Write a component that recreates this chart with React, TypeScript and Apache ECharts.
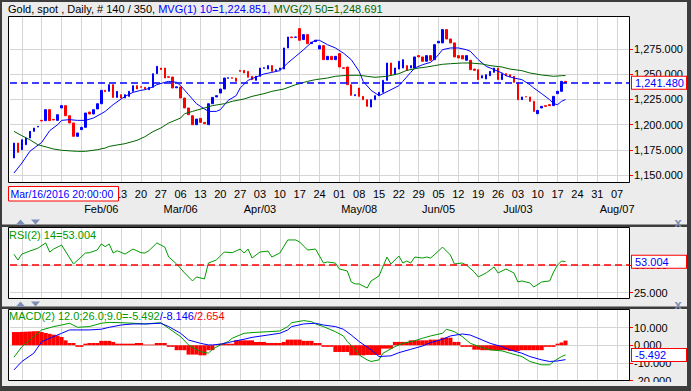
import React, { useEffect, useRef } from 'react';
import * as echarts from 'echarts';

const FONT = '"Liberation Sans", Arial, sans-serif';

// ---- calendar (x categories: every weekday of the visible range) ----
const FIRST_WEEKDAY = '2017-01-04';
const WEEKDAY_COUNT = 157;
const FIRST_CANDLE_INDEX = 1; // first candle: 2017-01-05
const FIRST_VISIBLE_DAY_LABEL = '2017-02-13'; // earlier week labels sit under the crosshair date box
const monthTickDates = ['2017-02-06', '2017-03-06', '2017-04-03', '2017-05-08', '2017-06-05', '2017-07-03', '2017-08-07'];
const monthTickLabels = ['Feb/06', 'Mar/06', 'Apr/03', 'May/08', 'Jun/05', 'Jul/03', 'Aug/07'];
const crosshairDateText = 'Mar/16/2016 20:00:00';

// ---- axis ticks ----
const priceTicks = [1150, 1175, 1200, 1225, 1250, 1275];
const rsiTicks = [25, 50];
const macdTicks = [-20, -10, 0, 10];
const TOTAL_BARS = 350;

// ---- daily candles [open, close, low, high] ----
const candles = [
  [1166.9, 1181.7, 1165.9, 1185.7], [1181.7, 1172.5, 1171.2, 1183.4], [1175.1, 1185.0, 1174.5, 1187.7],
  [1180.1, 1186.7, 1178.4, 1190.0], [1186.7, 1193.3, 1181.7, 1198.3], [1193.3, 1196.6, 1192.3, 1208.2],
  [1197.6, 1198.3, 1187.7, 1201.6], [1204.2, 1203.6, 1198.3, 1209.8], [1203.9, 1214.8, 1202.2, 1218.8],
  [1214.8, 1203.9, 1201.6, 1215.5], [1205.2, 1204.6, 1196.6, 1208.2], [1204.2, 1209.8, 1201.6, 1213.1],
  [1216.5, 1218.8, 1208.2, 1219.8], [1218.8, 1208.8, 1208.2, 1219.4], [1208.8, 1201.6, 1193.3, 1211.5],
  [1201.6, 1188.4, 1186.7, 1204.9], [1188.4, 1191.7, 1180.1, 1195.0], [1195.0, 1197.3, 1185.0, 1201.6],
  [1197.3, 1211.5, 1196.6, 1213.1], [1212.5, 1210.5, 1204.9, 1216.5], [1210.5, 1214.8, 1206.5, 1221.4],
  [1215.5, 1220.7, 1213.1, 1226.4], [1220.7, 1234.0, 1219.8, 1236.3], [1234.0, 1232.7, 1228.0, 1238.0],
  [1233.0, 1239.6, 1231.3, 1245.2], [1239.6, 1227.0, 1225.4, 1245.2], [1227.0, 1233.0, 1221.4, 1234.6],
  [1229.7, 1226.4, 1218.1, 1233.0], [1226.4, 1229.7, 1219.8, 1231.3], [1228.0, 1233.0, 1216.5, 1236.3],
  [1233.0, 1238.6, 1229.7, 1241.3], [1238.6, 1235.3, 1234.6, 1243.9], [1237.6, 1237.0, 1233.0, 1239.6],
  [1237.0, 1235.3, 1233.0, 1241.3], [1234.6, 1237.0, 1229.7, 1241.3], [1237.0, 1250.5, 1233.0, 1252.8],
  [1250.5, 1257.8, 1248.5, 1261.1], [1256.1, 1254.5, 1252.8, 1264.4], [1256.1, 1246.2, 1245.2, 1259.4],
  [1247.5, 1246.9, 1241.3, 1251.2], [1247.2, 1236.3, 1231.3, 1248.5], [1236.5, 1237.5, 1223.1, 1242.9],
  [1237.3, 1226.4, 1224.7, 1238.0], [1226.4, 1216.5, 1213.1, 1228.0], [1216.5, 1209.8, 1206.5, 1219.8],
  [1208.8, 1199.9, 1198.3, 1211.5], [1199.9, 1205.5, 1195.0, 1206.5], [1206.2, 1202.2, 1198.3, 1210.8],
  [1202.2, 1200.9, 1198.3, 1208.2], [1199.9, 1220.7, 1197.6, 1222.1], [1220.7, 1227.0, 1219.8, 1233.0],
  [1227.4, 1228.7, 1224.7, 1231.3], [1231.3, 1235.3, 1228.0, 1237.3], [1235.3, 1246.2, 1234.0, 1247.9],
  [1245.9, 1246.5, 1242.9, 1252.8], [1246.5, 1245.9, 1243.9, 1254.5], [1246.2, 1242.9, 1241.3, 1251.2],
  [1253.8, 1252.8, 1243.9, 1261.8], [1253.8, 1251.2, 1248.5, 1258.5], [1252.8, 1246.9, 1244.6, 1256.1],
  [1247.9, 1244.6, 1242.9, 1251.2], [1243.9, 1247.9, 1239.6, 1251.2], [1247.9, 1256.1, 1246.2, 1257.8],
  [1255.8, 1256.4, 1253.8, 1261.1], [1255.1, 1258.5, 1244.6, 1260.4], [1258.5, 1252.8, 1251.2, 1261.1],
  [1253.5, 1254.5, 1251.2, 1271.0], [1254.5, 1256.1, 1244.6, 1261.1], [1255.1, 1276.0, 1253.8, 1277.6],
  [1276.0, 1286.9, 1272.7, 1288.2], [1286.9, 1286.2, 1282.6, 1289.2], [1286.6, 1286.9, 1283.6, 1289.2],
  [1295.2, 1283.6, 1281.6, 1296.5], [1284.3, 1289.2, 1279.3, 1290.9], [1289.2, 1280.3, 1277.6, 1290.9],
  [1280.3, 1281.6, 1276.0, 1283.6], [1282.3, 1283.6, 1277.0, 1289.2], [1275.0, 1278.3, 1266.1, 1279.3],
  [1278.3, 1264.4, 1262.8, 1279.3], [1264.4, 1267.7, 1262.8, 1269.4], [1267.7, 1264.4, 1261.1, 1269.4],
  [1264.4, 1267.7, 1262.8, 1269.4], [1270.4, 1257.1, 1252.8, 1271.0], [1256.4, 1255.8, 1252.8, 1258.5],
  [1257.1, 1239.6, 1235.3, 1258.5], [1239.6, 1229.0, 1225.4, 1241.3], [1228.7, 1229.7, 1226.4, 1236.3],
  [1236.3, 1228.0, 1224.7, 1237.3], [1228.0, 1224.7, 1213.1, 1228.7], [1224.7, 1218.1, 1217.4, 1226.4],
  [1217.4, 1224.7, 1216.5, 1226.4], [1224.7, 1228.7, 1224.1, 1230.7], [1228.7, 1232.0, 1227.4, 1233.0],
  [1232.0, 1243.9, 1230.7, 1244.6], [1243.9, 1261.1, 1242.9, 1265.1], [1261.1, 1249.5, 1248.5, 1265.1],
  [1249.5, 1256.1, 1248.5, 1257.8], [1255.1, 1262.8, 1252.8, 1266.1], [1256.1, 1264.4, 1251.8, 1266.1],
  [1258.5, 1253.8, 1251.2, 1259.4], [1256.1, 1258.5, 1251.8, 1261.1], [1256.1, 1267.1, 1254.5, 1269.4],
  [1268.4, 1267.1, 1266.1, 1270.4], [1267.1, 1262.8, 1261.1, 1270.4], [1262.8, 1268.4, 1261.8, 1274.3],
  [1268.4, 1263.8, 1262.8, 1269.4], [1264.4, 1279.3, 1262.8, 1281.0], [1281.0, 1282.6, 1279.3, 1284.3],
  [1281.0, 1294.2, 1279.3, 1296.8], [1294.2, 1284.9, 1282.6, 1295.8], [1284.9, 1281.0, 1271.0, 1285.9],
  [1281.0, 1267.1, 1265.1, 1282.6], [1268.4, 1266.1, 1262.8, 1270.4], [1268.4, 1265.1, 1263.8, 1270.4],
  [1263.8, 1268.4, 1261.8, 1276.0], [1263.8, 1254.5, 1252.8, 1265.1], [1255.1, 1253.8, 1251.2, 1258.5],
  [1254.5, 1244.6, 1242.9, 1257.8], [1246.2, 1248.5, 1241.3, 1252.8], [1245.2, 1249.5, 1241.9, 1252.8],
  [1248.5, 1252.8, 1247.2, 1254.5], [1251.8, 1256.1, 1251.2, 1257.8], [1256.1, 1244.6, 1235.3, 1257.8],
  [1244.6, 1250.5, 1242.9, 1251.8], [1250.5, 1248.5, 1247.2, 1251.8], [1249.5, 1247.2, 1245.2, 1251.2],
  [1247.9, 1241.9, 1239.6, 1249.5], [1241.3, 1224.7, 1218.8, 1242.9], [1224.7, 1227.4, 1223.1, 1228.7],
  [1227.7, 1227.4, 1218.1, 1229.7], [1227.4, 1223.1, 1218.1, 1228.7], [1223.1, 1213.1, 1208.2, 1224.7],
  [1210.8, 1214.1, 1205.5, 1216.5], [1216.5, 1218.1, 1208.2, 1223.1], [1218.8, 1218.1, 1212.2, 1225.4],
  [1219.8, 1218.8, 1216.5, 1224.7], [1218.8, 1228.0, 1214.1, 1232.0], [1230.7, 1233.0, 1228.0, 1234.6],
  [1233.0, 1242.9, 1232.0, 1245.2], [1242.9, 1241.48, 1236.3, 1245.2],
];

// ---- moving averages: [candle index, value] ----
const ma10Points = [
  [0, 1152.0], [2, 1161.9], [4, 1173.5], [7, 1182.4], [9, 1194.0], [11, 1199.9], [12, 1204.2], [14, 1204.9],
  [16, 1204.2], [18, 1204.2], [20, 1206.5], [22, 1210.8], [23, 1213.1], [25, 1219.8], [27, 1225.4], [28, 1228.0],
  [30, 1232.0], [32, 1234.0], [33, 1234.6], [35, 1237.3], [36, 1239.6], [38, 1241.9], [39, 1242.9], [41, 1241.9],
  [42, 1238.6], [44, 1229.7], [46, 1220.7], [47, 1218.1], [49, 1213.1], [51, 1213.1], [52, 1214.8], [54, 1224.1],
  [56, 1228.7], [57, 1236.3], [59, 1243.9], [61, 1247.2], [63, 1250.2], [65, 1251.8], [67, 1253.5], [69, 1261.1],
  [71, 1267.7], [73, 1274.3], [75, 1281.6], [76, 1283.6], [77, 1283.6], [79, 1279.3], [81, 1276.0], [83, 1271.0],
  [85, 1264.4], [87, 1252.8], [88, 1242.9], [90, 1234.0], [92, 1228.7], [93, 1230.7], [95, 1234.6], [97, 1238.6],
  [98, 1242.9], [100, 1251.8], [101, 1256.1], [103, 1259.4], [105, 1261.8], [106, 1265.1], [107, 1269.4],
  [108, 1274.3], [110, 1276.0], [112, 1276.0], [114, 1274.3], [115, 1272.7], [117, 1264.4], [119, 1257.8],
  [121, 1254.5], [123, 1251.2], [124, 1248.5], [126, 1246.2], [128, 1244.6], [130, 1239.6], [131, 1236.3],
  [133, 1230.7], [135, 1224.7], [136, 1220.7], [137, 1219.8], [138, 1223.1], [139, 1224.851],
];
const ma50Points = [
  [0, 1193.3], [2, 1189.0], [4, 1185.0], [6, 1180.1], [10, 1175.8], [12, 1174.5], [16, 1173.5], [18, 1173.5],
  [21, 1175.1], [23, 1176.8], [24, 1178.4], [26, 1179.8], [28, 1181.1], [31, 1184.4], [33, 1188.0], [35, 1193.0],
  [37, 1196.6], [39, 1201.6], [42, 1206.5], [43, 1210.8], [45, 1213.1], [48, 1216.5], [50, 1218.8], [53, 1220.7],
  [55, 1223.1], [58, 1225.4], [60, 1228.0], [63, 1230.7], [65, 1233.0], [68, 1235.3], [71, 1239.6], [74, 1242.9],
  [76, 1244.6], [79, 1246.2], [81, 1247.9], [84, 1248.9], [87, 1248.9], [89, 1247.9], [91, 1246.9], [94, 1247.9],
  [97, 1250.5], [99, 1253.8], [102, 1256.1], [104, 1257.1], [106, 1258.5], [108, 1259.8], [110, 1260.4],
  [113, 1261.1], [115, 1261.1], [118, 1260.1], [120, 1258.5], [123, 1257.1], [125, 1255.1], [128, 1253.5],
  [130, 1251.2], [133, 1249.2], [136, 1247.9], [138, 1248.5], [139, 1248.691],
];

// ---- RSI(14) ----
const rsiPoints = [
  [0, 59.7], [1, 54.5], [2, 59.9], [4, 62.6], [6, 65.1], [8, 69.9], [9, 61.7], [10, 64.4], [12, 68.0], [15, 50.9],
  [18, 60.8], [19, 61.1], [21, 63.5], [22, 69.0], [23, 66.5], [24, 69.0], [25, 60.8], [26, 62.9], [28, 59.9],
  [30, 64.4], [32, 61.1], [33, 60.8], [34, 62.9], [36, 69.9], [38, 66.2], [39, 57.2], [41, 50.9], [43, 42.8],
  [45, 35.6], [46, 39.2], [48, 37.4], [49, 51.8], [51, 54.5], [53, 61.7], [55, 61.1], [57, 64.4], [58, 60.8],
  [59, 64.4], [60, 56.3], [62, 61.7], [64, 62.6], [65, 57.2], [67, 60.8], [69, 72.6], [71, 72.6], [72, 70.8],
  [74, 63.5], [76, 64.4], [78, 51.8], [79, 52.7], [81, 51.8], [82, 46.4], [84, 44.6], [85, 34.7], [86, 32.9],
  [87, 32.9], [89, 29.2], [90, 35.6], [92, 40.1], [94, 57.2], [95, 50.9], [97, 58.1], [98, 51.8], [99, 53.6],
  [100, 51.8], [101, 57.2], [103, 56.3], [104, 57.2], [105, 56.3], [107, 62.6], [108, 66.2], [110, 59.0],
  [111, 50.9], [113, 51.8], [114, 50.0], [116, 43.7], [117, 39.2], [119, 42.8], [121, 48.2], [122, 42.8],
  [124, 46.4], [126, 42.8], [127, 34.7], [128, 35.6], [130, 33.8], [131, 30.1], [133, 34.7], [135, 35.6],
  [136, 43.7], [137, 50.0], [138, 53.6], [139, 53.004],
];
const RSI_MID = 50;

// ---- MACD(12,26,9) ----
const macdPoints = [
  [0, -6.8], [2, -0.8], [5, 4.9], [7, 8.7], [10, 10.6], [12, 11.5], [14, 12.5], [16, 10.2], [19, 10.6], [22, 12.5],
  [24, 13.0], [27, 12.8], [30, 12.5], [33, 12.1], [37, 12.8], [39, 9.6], [42, 4.9], [44, 0.2], [47, -3.6],
  [49, -4.5], [50, -2.3], [52, 0.2], [54, 2.1], [55, 4.0], [58, 6.8], [60, 7.2], [64, 7.7], [67, 8.1], [69, 10.6],
  [70, 12.8], [73, 14.0], [75, 13.4], [76, 12.1], [78, 10.6], [81, 7.7], [83, 5.3], [84, 2.1], [86, -2.3],
  [87, -5.5], [89, -8.3], [90, -9.2], [92, -8.3], [93, -4.5], [96, -0.8], [98, 1.1], [101, 2.6], [103, 4.0],
  [105, 5.3], [108, 6.8], [109, 9.1], [111, 7.7], [113, 4.9], [115, 1.1], [118, -1.3], [120, -2.6], [123, -3.2],
  [125, -4.5], [128, -6.4], [130, -9.2], [133, -11.1], [135, -11.1], [136, -9.2], [138, -6.4], [139, -5.492],
];
const signalPoints = [
  [0, -14.0], [2, -9.2], [5, -4.5], [7, 2.1], [10, 4.9], [12, 6.8], [14, 8.7], [16, 8.7], [19, 8.7], [22, 9.1],
  [24, 10.2], [27, 11.5], [30, 12.1], [33, 12.1], [37, 12.5], [39, 10.6], [42, 6.8], [44, 3.0], [47, 1.1],
  [49, 0.2], [50, 0.2], [52, 0.6], [54, 1.5], [55, 2.1], [58, 3.4], [60, 4.5], [64, 5.8], [67, 6.8], [69, 8.7],
  [70, 10.6], [73, 12.1], [76, 12.5], [78, 11.5], [81, 10.6], [83, 9.1], [85, 5.8], [87, 2.1], [90, -2.6],
  [92, -6.4], [95, -6.0], [97, -4.2], [100, -2.3], [103, -0.4], [105, 1.5], [108, 3.4], [110, 5.3], [113, 6.4],
  [115, 5.8], [118, 3.0], [120, 1.1], [123, -0.8], [125, -2.6], [128, -4.5], [130, -6.4], [133, -8.3],
  [135, -9.2], [137, -8.9], [139, -8.146],
];
const macdHist = [
  7.5, 7.5, 7.6, 7.7, 7.8, 8.0, 8.0, 7.5, 7.0, 6.5, 6.0, 5.5, 4.7, 2.8, 1.3, 1.3, -0.9, -0.9, 0.9, 1.3,
  1.3, 1.3, 2.5, 2.5, 2.5, 1.9, 0.9, 0.9, 0.9, 0.9, 0.9, 1.3, 1.3, 0.4, 0.4, 0.4, 1.3, 1.3, 1.3, -0.9,
  -0.9, -2.8, -2.8, -2.8, -5.3, -5.3, -5.3, -5.7, -5.7, -2.8, -2.8, 0.2, 0.9, 0.9, 0.9, 0.9, 2.8, 2.8, 2.8, 2.8,
  2.8, 1.9, 1.9, 1.9, 1.3, 1.3, 1.3, 1.3, 1.9, 3.2, 3.2, 3.2, 3.2, 2.5, 2.5, 2.5, 1.3, 1.3, -0.9, -0.9,
  -0.9, -3.8, -3.8, -3.8, -3.8, -5.7, -5.7, -5.7, -5.7, -5.5, -5.5, -5.5, -5.5, -1.9, -1.9, -1.9, 1.9, 1.9, 1.9, 1.9,
  2.8, 2.8, 2.8, 2.8, 2.8, 3.2, 3.2, 3.2, 4.3, 4.3, 4.3, 1.9, 1.9, -0.9, -0.9, -0.9, -2.5, -2.5, -2.8, -2.8,
  -2.8, -2.8, -2.8, -2.8, -2.8, -3.2, -3.2, -3.2, -2.8, -2.8, -2.8, -2.8, -2.8, -2.8, -0.9, -0.9, -0.9, 0.9, 1.6, 2.654,
];

// ---------------------------------------------------------------
function buildWeekdays(first: string, count: number): string[] {
  const out: string[] = [];
  let t = Date.parse(first + 'T00:00:00Z');
  while (out.length < count) {
    const d = new Date(t);
    const wd = d.getUTCDay();
    if (wd !== 0 && wd !== 6) out.push(d.toISOString().slice(0, 10));
    t += 86400000;
  }
  return out;
}
const isMonday = (s: string) => new Date(s + 'T00:00:00Z').getUTCDay() === 1;
const showDayLabel = (s: string) => isMonday(s) && s >= FIRST_VISIBLE_DAY_LABEL;
const fmt3 = (v: number) => {
  const [i, d] = Math.abs(v).toFixed(3).split('.');
  return (v < 0 ? '-' : '') + i.replace(/\B(?=(\d{3})+(?!\d))/g, ',') + '.' + d;
};
const toXY = (pts: number[][]) => pts.map(([i, v]) => [i + FIRST_CANDLE_INDEX, v]);

const GRID_LEFT = 10;
const GRID_W = 619;
const FRAME_X = 8.5;
const FRAME_W = 621;
const GRID_LINE = '#d5d5d5';
const BG = '#ececec';
const DARK = '#3d3d3d';
const ICON = '#7d8db5';

const boxLabel = (text: string) => ({
  show: true,
  position: 'end',
  distance: 3,
  formatter: text,
  color: '#0000ff',
  backgroundColor: '#ffffff',
  borderColor: '#ff0000',
  borderWidth: 1,
  padding: [1, 3, 0, 3],
  width: 48,
  fontSize: 11,
  fontFamily: FONT,
});

export default function App() {
  const ref = useRef<HTMLDivElement>(null);
  useEffect(() => {
    if (!ref.current) return;
    const chart = echarts.init(ref.current, null, { renderer: 'svg' });
    const categories = buildWeekdays(FIRST_WEEKDAY, WEEKDAY_COUNT);
    const lastClose = candles[candles.length - 1][1];
    const lastMa10 = ma10Points[ma10Points.length - 1][1];
    const lastMa50 = ma50Points[ma50Points.length - 1][1];
    const lastRsi = rsiPoints[rsiPoints.length - 1][1];
    const lastMacd = macdPoints[macdPoints.length - 1][1];
    const lastSignal = signalPoints[signalPoints.length - 1][1];
    const lastHist = macdHist[macdHist.length - 1];

    const xBase = (gridIndex: number) => ({
      type: 'category',
      gridIndex,
      data: categories,
      boundaryGap: false,
      axisLine: { show: false },
      axisTick: { show: false },
      axisLabel: { show: false },
      splitLine: { show: true, interval: (_i: number, v: string) => isMonday(v), lineStyle: { color: GRID_LINE, width: 1 } },
    });
    const yBase = (gridIndex: number, min: number, max: number, ticks: number[]) => ({
      type: 'value',
      gridIndex,
      position: 'right',
      min,
      max,
      axisLine: { show: false },
      axisTick: { show: true, customValues: ticks, length: 4, lineStyle: { color: '#ff0000', width: 1 } },
      axisLabel: { show: true, customValues: ticks, formatter: (v: number) => fmt3(v), margin: 5, color: '#000', fontSize: 11, fontFamily: FONT },
      splitLine: { show: true, lineStyle: { color: GRID_LINE, width: 1 } },
    });

    const frames = [
      [16.5, 166],
      [227.5, 71],
      [309.5, 71],
    ];

    const graphic: any[] = [];
    frames.forEach(([y, h]) => {
      graphic.push({ type: 'rect', z: -10, silent: true, shape: { x: FRAME_X, y, width: FRAME_W, height: h }, style: { fill: '#ffffff' } });
    });
    frames.forEach(([y, h]) => {
      graphic.push({ type: 'rect', z: 100, silent: true, shape: { x: FRAME_X, y, width: FRAME_W, height: h }, style: { fill: 'transparent', stroke: '#000', lineWidth: 1 } });
    });
    // outer dark edges and panel splitters
    [
      [0, 0, 691, 2],
      [0, 0, 2, 391],
      [687, 0, 4, 391],
      [0, 386, 691, 5],
      [0, 224.5, 691, 2.5],
      [0, 306.5, 691, 2.5],
    ].forEach(([x, y, w, h]) => graphic.push({ type: 'rect', z: 110, silent: true, shape: { x, y, width: w, height: h }, style: { fill: DARK } }));
    // cover below MACD frame (clipped -20 label)
    graphic.push({ type: 'rect', z: 105, silent: true, shape: { x: 630, y: 382, width: 57, height: 4 }, style: { fill: BG } });
    // panel arrows and close marks
    [219.5, 301.5].forEach((y) => {
      graphic.push({ type: 'polygon', z: 110, silent: true, shape: { points: [[16, y + 5], [20.5, y], [25, y + 5]] }, style: { fill: ICON } });
      graphic.push({ type: 'polygon', z: 110, silent: true, shape: { points: [[31, y], [40, y], [35.5, y + 5]] }, style: { fill: ICON } });
      graphic.push({ type: 'text', z: 110, silent: true, x: 678, y: y + 2.5, style: { text: 'x', fill: ICON, font: 'bold 13px ' + FONT, align: 'center', verticalAlign: 'middle' } });
    });
    // titles
    graphic.push({
      type: 'text', z: 110, silent: true, x: 8, y: 8.5,
      style: {
        text: `{a|Gold, spot , Daily, # ${candles.length} / ${TOTAL_BARS}, }{b|MVG(1) 10=${fmt3(lastMa10)}, }{c|MVG(2) 50=${fmt3(lastMa50)}}`,
        verticalAlign: 'middle',
        font: '11px ' + FONT,
        rich: {
          a: { fill: '#000000', fontSize: 11, fontFamily: FONT },
          b: { fill: '#0000ff', fontSize: 11, fontFamily: FONT },
          c: { fill: '#006400', fontSize: 11, fontFamily: FONT },
        },
      },
    });
    graphic.push({
      type: 'text', z: 110, silent: true, x: 9, y: 235,
      style: { text: `RSI(2) 14=${fmt3(lastRsi)}`, fill: '#009900', font: '11px ' + FONT, verticalAlign: 'middle' },
    });
    graphic.push({
      type: 'text', z: 110, silent: true, x: 9, y: 315.5,
      style: {
        text: `{a|MACD(2) 12.0;26.0;9.0=${fmt3(lastMacd)}}{b|/${fmt3(lastSignal)}}{c|/${fmt3(lastHist)}}`,
        verticalAlign: 'middle',
        font: '11px ' + FONT,
        rich: {
          a: { fill: '#009900', fontSize: 11, fontFamily: FONT },
          b: { fill: '#0000ff', fontSize: 11, fontFamily: FONT },
          c: { fill: '#ff0000', fontSize: 11, fontFamily: FONT },
        },
      },
    });
    // crosshair date box
    graphic.push({ type: 'rect', z: 110, silent: true, shape: { x: 8.5, y: 186.5, width: 110, height: 14.5 }, style: { fill: '#ffffff', stroke: '#ff0000', lineWidth: 1 } });
    graphic.push({ type: 'text', z: 111, silent: true, x: 10.5, y: 194, style: { text: crosshairDateText, fill: '#0000ff', font: '10.5px ' + FONT, verticalAlign: 'middle' } });

    const option: any = {
      animation: false,
      backgroundColor: BG,
      grid: [
        { left: GRID_LEFT, width: GRID_W, top: 17, height: 165.5, show: false },
        { left: GRID_LEFT, width: GRID_W, top: 228, height: 70, show: false },
        { left: GRID_LEFT, width: GRID_W, top: 309.5, height: 71, show: false },
      ],
      xAxis: [
        {
          ...xBase(0),
          axisLabel: {
            show: true,
            interval: (_i: number, v: string) => showDayLabel(v),
            formatter: (v: string) => (showDayLabel(v) ? v.slice(8) : ''),
            margin: 6,
            color: '#000',
            fontSize: 11,
            fontFamily: FONT,
          },
        },
        {
          type: 'category',
          gridIndex: 0,
          data: categories,
          boundaryGap: false,
          position: 'bottom',
          offset: 15,
          axisLine: { show: false },
          axisTick: { show: false },
          splitLine: { show: false },
          axisLabel: {
            show: true,
            interval: (_i: number, v: string) => monthTickDates.includes(v),
            formatter: (v: string) => {
              const k = monthTickDates.indexOf(v);
              return k >= 0 ? monthTickLabels[k] : '';
            },
            margin: 6,
            color: '#000',
            fontSize: 11,
            fontFamily: FONT,
          },
        },
        xBase(1),
        xBase(2),
      ],
      yAxis: [
        yBase(0, 1142.6, 1306.7, priceTicks),
        yBase(1, 20.2, 83.4, rsiTicks),
        yBase(2, -20, 20.3, macdTicks),
      ],
      series: [
        {
          name: 'wicks',
          type: 'candlestick',
          xAxisIndex: 0,
          yAxisIndex: 0,
          barWidth: 1,
          encode: { x: 0, y: [1, 2, 3, 4] },
          data: candles.map((c, i) => [i + FIRST_CANDLE_INDEX, c[2], c[3], c[2], c[3]]),
          itemStyle: { color: '#000', color0: '#000', borderColor: '#000', borderColor0: '#000', borderWidth: 0 },
          silent: true,
        },
        {
          name: 'bodies',
          type: 'candlestick',
          xAxisIndex: 0,
          yAxisIndex: 0,
          barWidth: 2,
          encode: { x: 0, y: [1, 2, 3, 4] },
          data: candles.map((c, i) => [i + FIRST_CANDLE_INDEX, c[0], c[1], Math.min(c[0], c[1]), Math.max(c[0], c[1])]),
          itemStyle: { color: '#0000ff', color0: '#ff0000', borderColor: '#0000ff', borderColor0: '#ff0000', borderWidth: 1 },
          silent: true,
          markLine: {
            silent: true,
            symbol: ['none', 'none'],
            animation: false,
            lineStyle: { color: '#0000ff', type: [7, 4], width: 1.5 },
            label: boxLabel(fmt3(lastClose)),
            data: [{ yAxis: lastClose }],
          },
        },
        {
          name: 'MVG(1)',
          type: 'line',
          xAxisIndex: 0,
          yAxisIndex: 0,
          data: toXY(ma10Points),
          showSymbol: false,
          symbol: 'none',
          lineStyle: { color: '#0000ff', width: 1 },
          silent: true,
        },
        {
          name: 'MVG(2)',
          type: 'line',
          xAxisIndex: 0,
          yAxisIndex: 0,
          data: toXY(ma50Points),
          showSymbol: false,
          symbol: 'none',
          lineStyle: { color: '#006400', width: 1 },
          silent: true,
        },
        {
          name: 'RSI',
          type: 'line',
          xAxisIndex: 2,
          yAxisIndex: 1,
          data: toXY(rsiPoints),
          showSymbol: false,
          symbol: 'none',
          lineStyle: { color: '#009900', width: 1 },
          silent: true,
          markLine: {
            silent: true,
            symbol: ['none', 'none'],
            animation: false,
            data: [
              { yAxis: RSI_MID, lineStyle: { color: '#ff0000', type: [7, 4], width: 1.5 }, label: { show: false } },
              { yAxis: lastRsi, lineStyle: { color: 'rgba(0,0,0,0)', width: 0 }, label: boxLabel(fmt3(lastRsi)) },
            ],
          },
        },
        {
          name: 'Hist',
          type: 'bar',
          xAxisIndex: 3,
          yAxisIndex: 2,
          data: macdHist.map((v, i) => [i + FIRST_CANDLE_INDEX, v]),
          barWidth: 4,
          itemStyle: { color: '#ff0000' },
          silent: true,
        },
        {
          name: 'MACD',
          type: 'line',
          xAxisIndex: 3,
          yAxisIndex: 2,
          data: toXY(macdPoints),
          showSymbol: false,
          symbol: 'none',
          lineStyle: { color: '#009900', width: 1 },
          silent: true,
          markLine: {
            silent: true,
            symbol: ['none', 'none'],
            animation: false,
            data: [{ yAxis: lastMacd, lineStyle: { color: 'rgba(0,0,0,0)', width: 0 }, label: boxLabel(fmt3(lastMacd)) }],
          },
        },
        {
          name: 'Signal',
          type: 'line',
          xAxisIndex: 3,
          yAxisIndex: 2,
          data: toXY(signalPoints),
          showSymbol: false,
          symbol: 'none',
          lineStyle: { color: '#0000ff', width: 1 },
          silent: true,
        },
      ],
      graphic,
    };
    chart.setOption(option);
    return () => chart.dispose();
  }, []);
  return <div ref={ref} style={{ position: 'fixed', left: 0, top: 0, width: 691, height: 391 }} />;
}
